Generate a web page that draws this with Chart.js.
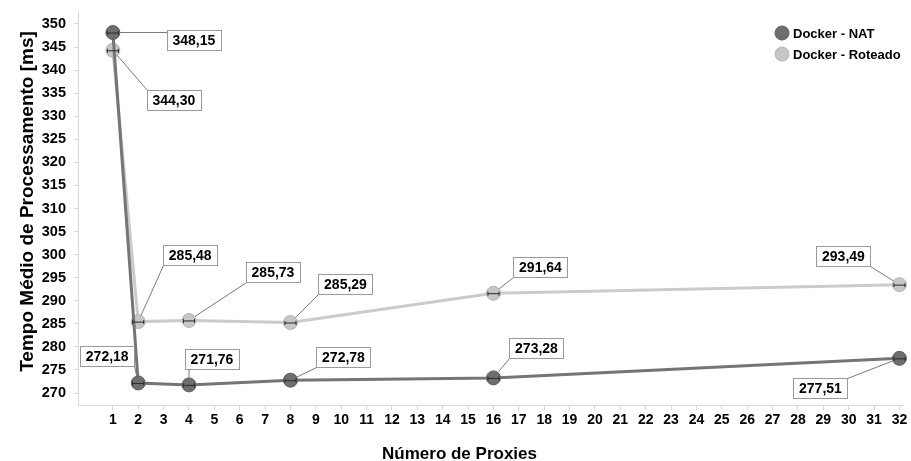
<!DOCTYPE html>
<html>
<head>
<meta charset="utf-8">
<script src="https://cdn.jsdelivr.net/npm/chart.js@4/dist/chart.umd.min.js"></script>
<style>
  html, body { margin: 0; padding: 0; background: #ffffff; }
  #wrap { width: 911px; height: 461px; position: relative; }
</style>
</head>
<body>
<div id="wrap"><canvas id="c" width="911" height="461"></canvas></div>
<script>
// Number of proxies (x) and mean processing time in ms for each setup
const proxies = [1, 2, 4, 8, 16, 32];
const natValues = [348.15, 272.18, 271.76, 272.78, 273.28, 277.51];
const roteadoValues = [344.30, 285.48, 285.73, 285.29, 291.64, 293.49];
const seriesNames = ['Docker - NAT', 'Docker - Roteado'];
const xTickValues = Array.from({ length: 32 }, (_, i) => i + 1);
const yTickValues = [270, 275, 280, 285, 290, 295, 300, 305, 310, 315, 320, 325, 330, 335, 340, 345, 350];
const xAxisTitle = 'Número de Proxies';
const yAxisTitle = 'Tempo Médio de Processamento [ms]';

// Placement of each value box, as pixel offsets of the box centre from its point
const natLabelOffsets = [[81, 7], [-31, -27], [23, -26], [53, -23], [43, -30], [-79, 30]];
const roteadoLabelOffsets = [[61, 50], [52, -67], [84, -48], [55, -38], [47, -26], [-56, -29]];

const FONT = "'Liberation Sans', Arial, sans-serif";
const NAT_COLOR = '#6e6e6e';
const ROT_COLOR = '#c6c6c6';

function fmt(v) { return v.toFixed(2).replace('.', ','); }

const toPoints = vals => proxies.map((p, i) => ({ x: p, y: vals[i] }));

// Error-bar ticks across each marker, value boxes with leader lines, legend and axis titles
const annotate = {
  id: 'annotate',
  afterDatasetsDraw(chart) {
    const { ctx, scales: { x, y } } = chart;
    const groups = [
      { vals: natValues, offs: natLabelOffsets },
      { vals: roteadoValues, offs: roteadoLabelOffsets }
    ];
    ctx.save();
    groups.forEach(g => {
      g.vals.forEach((v, i) => {
        const px = x.getPixelForValue(proxies[i]);
        const py = y.getPixelForValue(v);
        ctx.strokeStyle = '#2a2a2a';
        ctx.lineWidth = 1;
        ctx.beginPath();
        ctx.moveTo(px - 6, py + 0.5); ctx.lineTo(px + 6, py + 0.5);
        ctx.moveTo(px - 5.5, py - 1.5); ctx.lineTo(px - 5.5, py + 2.5);
        ctx.moveTo(px + 5.5, py - 1.5); ctx.lineTo(px + 5.5, py + 2.5);
        ctx.stroke();
      });
    });
    ctx.font = 'bold 14px ' + FONT;
    ctx.textAlign = 'center';
    ctx.textBaseline = 'middle';
    groups.forEach(g => {
      g.vals.forEach((v, i) => {
        const px = x.getPixelForValue(proxies[i]);
        const py = y.getPixelForValue(v);
        const txt = fmt(v);
        const w = Math.round(ctx.measureText(txt).width) + 11;
        const h = 20;
        const cx = px + g.offs[i][0];
        const cy = py + g.offs[i][1];
        const bx = Math.round(cx - w / 2) + 0.5;
        const by = Math.round(cy - h / 2) + 0.5;
        const tx = Math.min(Math.max(px, bx), bx + w);
        const ty = Math.min(Math.max(py, by), by + h);
        const dx = tx - px, dy = ty - py;
        const d = Math.hypot(dx, dy) || 1;
        ctx.strokeStyle = '#7a7a7a';
        ctx.lineWidth = 1;
        ctx.beginPath();
        ctx.moveTo(px + dx / d * 7, py + dy / d * 7);
        ctx.lineTo(tx, ty);
        ctx.stroke();
        ctx.fillStyle = '#ffffff';
        ctx.fillRect(bx, by, w, h);
        ctx.strokeStyle = '#9a9a9a';
        ctx.strokeRect(bx, by, w, h);
        ctx.fillStyle = '#000000';
        ctx.fillText(txt, cx, by + h / 2 + 1);
      });
    });
    // legend
    const legendColors = [NAT_COLOR, ROT_COLOR];
    const legendBorders = ['#5e5e5e', '#b4b4b4'];
    ctx.font = 'bold 13px ' + FONT;
    ctx.textAlign = 'left';
    seriesNames.forEach((name, i) => {
      const ly = 33 + i * 21;
      ctx.beginPath();
      ctx.arc(782, ly, 7, 0, Math.PI * 2);
      ctx.fillStyle = legendColors[i];
      ctx.fill();
      ctx.strokeStyle = legendBorders[i];
      ctx.lineWidth = 1;
      ctx.stroke();
      ctx.fillStyle = '#000000';
      ctx.fillText(name, 793, ly + 1);
    });
    // axis titles
    ctx.fillStyle = '#000000';
    ctx.textAlign = 'center';
    ctx.textBaseline = 'alphabetic';
    ctx.font = 'bold 17px ' + FONT;
    ctx.fillText(xAxisTitle, 459.5, 459);
    ctx.translate(33, 201.5);
    ctx.rotate(-Math.PI / 2);
    ctx.font = 'bold 19px ' + FONT;
    ctx.fillText(yAxisTitle, 0, 0);
    ctx.restore();
  }
};

new Chart(document.getElementById('c'), {
  type: 'line',
  data: {
    datasets: [
      {
        label: seriesNames[0],
        data: toPoints(natValues),
        borderColor: '#757575',
        backgroundColor: NAT_COLOR,
        pointBackgroundColor: NAT_COLOR,
        pointBorderColor: '#5e5e5e',
        pointBorderWidth: 1,
        pointRadius: 7,
        borderWidth: 3,
        tension: 0,
        clip: false
      },
      {
        label: seriesNames[1],
        data: toPoints(roteadoValues),
        borderColor: '#cbcbcb',
        backgroundColor: ROT_COLOR,
        pointBackgroundColor: ROT_COLOR,
        pointBorderColor: '#b4b4b4',
        pointBorderWidth: 1,
        pointRadius: 7,
        borderWidth: 3,
        tension: 0,
        clip: false
      }
    ]
  },
  options: {
    responsive: false,
    animation: false,
    events: [],
    layout: { padding: { top: 12, right: 1, bottom: 0, left: 0 } },
    plugins: { legend: { display: false }, tooltip: { enabled: false } },
    scales: {
      x: {
        type: 'linear',
        min: -0.374,
        max: 32.14,
        afterBuildTicks: s => { s.ticks = xTickValues.map(v => ({ value: v })); },
        afterFit: s => { s.height = 56; s.paddingLeft = 0; s.paddingRight = 0; },
        grid: { drawOnChartArea: false, tickLength: 5, color: '#d9d9d9' },
        border: { color: '#d9d9d9', width: 1 },
        ticks: {
          autoSkip: false, maxRotation: 0, padding: 2,
          color: '#000000',
          font: { family: FONT, size: 14, weight: 'bold' }
        }
      },
      y: {
        type: 'linear',
        min: 267.4,
        max: 352.6,
        afterBuildTicks: s => { s.ticks = yTickValues.map(v => ({ value: v })); },
        afterFit: s => { s.width = 78; s.paddingTop = 0; s.paddingBottom = 0; },
        grid: { drawOnChartArea: false, tickLength: 4, color: '#d9d9d9' },
        border: { color: '#d9d9d9', width: 1 },
        ticks: {
          padding: 8, color: '#000000',
          font: { family: FONT, size: 14.5, weight: 'bold' }
        }
      }
    }
  },
  plugins: [annotate]
});
</script>
</body>
</html>
